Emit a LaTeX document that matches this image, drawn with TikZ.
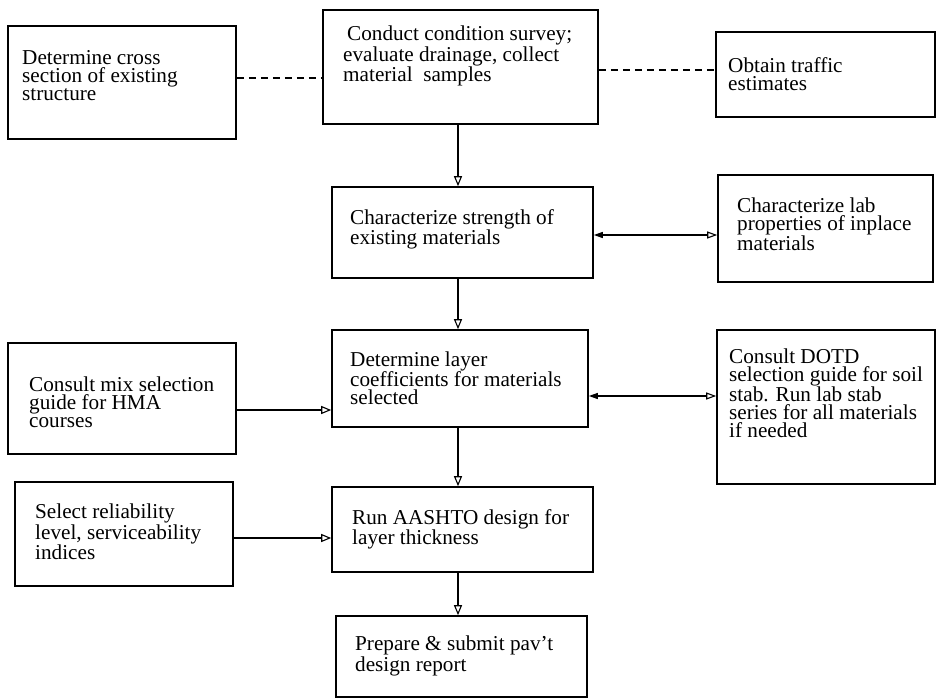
\documentclass[tikz,border=0pt]{standalone}
\usepackage{fontspec}
\setmainfont{Liberation Serif}
\usetikzlibrary{arrows.meta}
\begin{document}
\begin{tikzpicture}[x=1pt,y=-1pt,
  box/.style={draw, line width=1.6pt, inner sep=0pt},
  txt/.style={anchor=west, align=left, inner sep=0pt,
              font=\fontsize{21.2}{18}\selectfont},
  flow/.style={line width=1.1pt, -{Triangle[open, length=10pt, width=8pt]}},
  twoway/.style={line width=1.1pt,
                 {Triangle[length=9pt, width=6pt]}-{Triangle[open, length=10pt, width=7pt]}},
  link/.style={line width=1.6pt, dash pattern=on 7pt off 5pt}]
\useasboundingbox (0,0) rectangle (937,698);

% boxes
\node[box, minimum width=228pt, minimum height=113pt] (A) at (122,82.5) {};
\node[box, minimum width=275pt, minimum height=114pt] (B) at (460.5,67) {};
\node[box, minimum width=219pt, minimum height=85pt]  (C) at (825.5,74.5) {};
\node[box, minimum width=261pt, minimum height=91pt]  (D) at (462.5,232.5) {};
\node[box, minimum width=215pt, minimum height=107pt] (E) at (825.5,228.5) {};
\node[box, minimum width=256pt, minimum height=97pt]  (F) at (460,378.5) {};
\node[box, minimum width=228pt, minimum height=111pt] (G) at (122,398.5) {};
\node[box, minimum width=218pt, minimum height=154pt] (H) at (826,407) {};
\node[box, minimum width=218pt, minimum height=104pt] (I) at (124,534) {};
\node[box, minimum width=261pt, minimum height=85pt]  (J) at (462.5,529.5) {};
\node[box, minimum width=251pt, minimum height=81pt]  (K) at (461.5,656.5) {};

% box texts
\node[txt] (At) at (22,75.5) {Determine cross\\section of existing\\structure};
\node[txt] (Bt) at (343,56) {\hspace{4pt}Conduct condition survey;\\evaluate drainage, collect\\material\ \ samples};
\node[txt] (Ct) at (728,74) {Obtain traffic\\estimates};
\node[txt] (Dt) at (350,229) {Characterize strength of\\existing materials};
\node[txt] (Et) at (737,224) {Characterize lab\\properties of inplace\\materials};
\node[txt] (Ft) at (350,378) {Determine layer\\coefficients for materials\\selected};
\node[txt] (Gt) at (29,402) {Consult mix selection\\guide for HMA\\courses};
\node[txt] (Ht) at (729,393) {Consult DOTD\\selection guide for soil\\stab. Run lab stab\\series for all materials\\if needed};
\node[txt] (It) at (35,532) {Select reliability\\level, serviceability\\indices};
\node[txt] (Jt) at (352,529) {Run AASHTO design for\\layer thickness};
\node[txt] (Kt) at (355,656) {Prepare \& submit pav’t\\design report};

% guide coordinates for the connectors
\coordinate (col) at (458,0);
\coordinate (r1) at (0,78);
\coordinate (r2) at (0,70);
\coordinate (r3) at (0,235);
\coordinate (r4) at (0,396);
\coordinate (r5) at (0,410);
\coordinate (r6) at (0,538);

% dashed links
\draw[link] (A.east |- r1) -- (B.west |- r1);
\draw[link] (B.east |- r2) -- (C.west |- r2);

% main flow
\draw[flow] (B.south -| col) -- (D.north -| col);
\draw[flow] (D.south -| col) -- (F.north -| col);
\draw[flow] (F.south -| col) -- (J.north -| col);
\draw[flow] (J.south -| col) -- (K.north -| col);

% side inputs
\draw[twoway] (D.east |- r3) -- (E.west |- r3);
\draw[twoway] (F.east |- r4) -- (H.west |- r4);
\draw[flow] (G.east |- r5) -- (F.west |- r5);
\draw[flow] (I.east |- r6) -- (J.west |- r6);
\end{tikzpicture}
\end{document}
